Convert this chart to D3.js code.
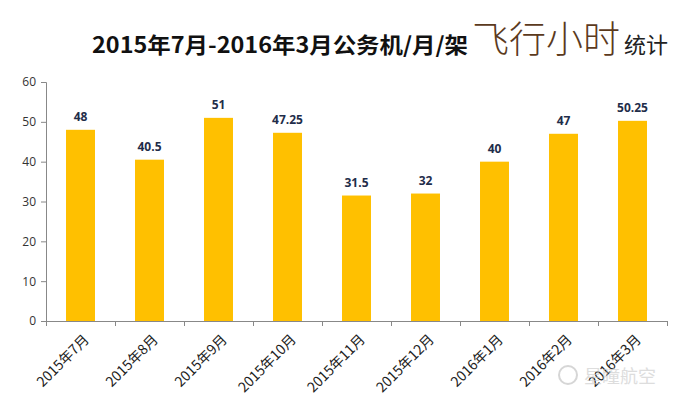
<!DOCTYPE html>
<html>
<head>
<meta charset="utf-8">
<script src="https://cdn.jsdelivr.net/npm/d3@7"></script>
<style>
  body { margin: 0; background: #fff; }
  svg { display: block; }
</style>
</head>
<body>
<svg id="bar-chart" width="680" height="399"></svg>
<script>
// months along the x axis
const months = ['2015年7月', '2015年8月', '2015年9月', '2015年10月', '2015年11月',
  '2015年12月', '2016年1月', '2016年2月', '2016年3月'];
// flight hours per aircraft per month
const hours = [48, 40.5, 51, 47.25, 31.5, 32, 40, 47, 50.25];
const yTicks = [0, 10, 20, 30, 40, 50, 60];

const svg = d3.select('#bar-chart'),
  margin = {top: 82, right: 13, bottom: 78, left: 46},
  width = +svg.attr('width') - margin.left - margin.right,
  height = +svg.attr('height') - margin.top - margin.bottom;

const cjk = '"Noto Sans CJK SC", "Noto Sans", sans-serif';

const x = d3.scaleBand().domain(months).range([0, width])
  .paddingInner(0.58).paddingOuter(0.29);
const y = d3.scaleLinear().domain([0, 60]).range([height, 0]);
// band boundaries for the category tick marks
const xb = d3.scaleLinear().domain([0, months.length]).range([0, width]);

const g = svg.append('g')
  .attr('transform', 'translate(' + margin.left + ',' + margin.top + ')');

// title
const title = svg.append('text')
  .attr('x', 92)
  .attr('y', 53)
  .attr('font-family', cjk)
  .attr('fill', '#111');
title.append('tspan')
  .attr('font-size', 22)
  .attr('font-weight', 'bold')
  .attr('textLength', 376)
  .attr('lengthAdjust', 'spacingAndGlyphs')
  .text('2015年7月-2016年3月公务机/月/架');
title.append('tspan')
  .attr('x', 472)
  .attr('font-size', 37)
  .attr('font-weight', 300)
  .attr('fill', '#5b3a1d')
  .text('飞行小时');
title.append('tspan')
  .attr('x', 624)
  .attr('font-size', 22)
  .attr('fill', '#222')
  .text('统计');

// y axis
const yAxis = g.append('g')
  .call(d3.axisLeft(y).tickValues(yTicks).tickSize(5).tickPadding(5));
yAxis.select('.domain').attr('stroke', '#888');
yAxis.selectAll('.tick line').attr('stroke', '#888');
yAxis.selectAll('text')
  .attr('font-family', '"Open Sans", sans-serif')
  .attr('font-size', 12)
  .attr('fill', '#333');

// x axis: line with marks at the band edges
const xAxis = g.append('g')
  .attr('transform', 'translate(0,' + height + ')')
  .call(d3.axisBottom(xb).ticks(months.length).tickSize(5).tickFormat(''));
xAxis.select('.domain').attr('stroke', '#888');
xAxis.selectAll('.tick line').attr('stroke', '#888');

// month labels, slanted
g.append('g')
  .selectAll('text')
  .data(months)
  .join('text')
  .attr('transform', d => 'translate(' + (x(d) + x.bandwidth() / 2 + 6) + ',' + (height + 16) + ')rotate(-45)')
  .attr('text-anchor', 'end')
  .attr('dy', '0.35em')
  .attr('font-family', cjk)
  .attr('font-size', 14)
  .attr('fill', '#222')
  .text(d => d);

// bars
g.selectAll('.bar')
  .data(hours)
  .join('rect')
  .attr('class', 'bar')
  .attr('x', (d, i) => x(months[i]))
  .attr('y', d => y(d))
  .attr('width', x.bandwidth())
  .attr('height', d => height - y(d))
  .attr('fill', '#ffc000');

// value labels
g.selectAll('.val')
  .data(hours)
  .join('text')
  .attr('class', 'val')
  .attr('x', (d, i) => x(months[i]) + x.bandwidth() / 2)
  .attr('y', d => y(d) - 9)
  .attr('text-anchor', 'middle')
  .attr('font-family', '"Open Sans", sans-serif')
  .attr('font-size', 12)
  .attr('font-weight', 'bold')
  .attr('fill', '#1f2d4a')
  .text(d => d);

// watermark
const wm = svg.append('g').attr('opacity', 0.6);
wm.append('circle')
  .attr('cx', 568).attr('cy', 375).attr('r', 9)
  .attr('fill', 'none').attr('stroke', '#bbb').attr('stroke-width', 2);
wm.append('text')
  .attr('x', 584)
  .attr('y', 383)
  .attr('font-family', cjk)
  .attr('font-size', 18)
  .attr('fill', '#c8c8c8')
  .text('星瞳航空');
</script>
</body>
</html>
